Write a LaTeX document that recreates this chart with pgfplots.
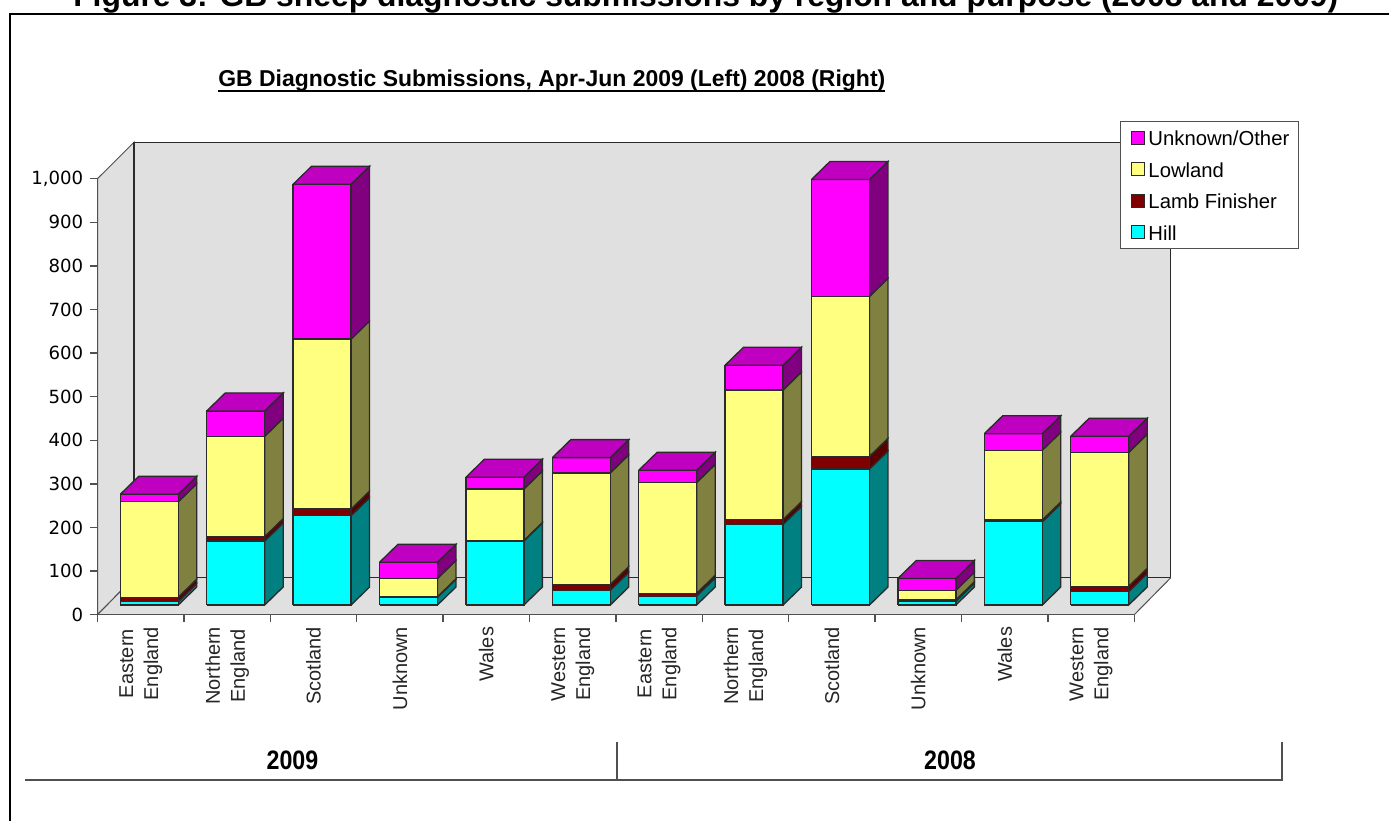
\documentclass[border=0pt]{standalone}
\usepackage{fontspec}
\setmainfont{Liberation Sans}
\newfontfamily\dejavu{DejaVu Sans}
\usepackage{pgfplots}
\pgfplotsset{compat=1.18}
\newlength{\px}\setlength{\px}{0.75pt}
\definecolor{wall}{HTML}{E0E0E0}
\definecolor{edge}{HTML}{2A2A2A}
\definecolor{axisgrey}{HTML}{505050}
\definecolor{hillF}{HTML}{00FFFF}\definecolor{hillS}{HTML}{008080}
\definecolor{lambF}{HTML}{800000}\definecolor{lambS}{HTML}{5A0000}
\definecolor{lowF}{HTML}{FFFF80}\definecolor{lowS}{HTML}{808040}
\definecolor{otherF}{HTML}{FF00FF}\definecolor{otherS}{HTML}{800080}\definecolor{otherT}{HTML}{C000C0}

% Bar geometry in axis units: one category is 86.4 px wide, one submission 0.436 px
\def\barOff{0.264}\def\barW{0.671}\def\sideX{0.214}\def\sideY{41.3}\def\barBase{22.2}

% One filled polygon through four axis points
\newcommand{\Quad}[9]{%
  \edef\tmp{\noexpand\addplot[fill=#1,draw=edge,line width=1.3\px,line join=miter,forget plot]
    coordinates {(#2,#3)(#4,#5)(#6,#7)(#8,#9)(#2,#3)};}\tmp}
% One series segment of a stacked bar: front and side faces, from lo to hi
\newcommand{\Seg}[5]{%
  \pgfmathsetmacro\xa{#1+\barOff}\pgfmathsetmacro\xb{\xa+\barW}\pgfmathsetmacro\xc{\xb+\sideX}%
  \pgfmathsetmacro\ya{#2+\barBase}\pgfmathsetmacro\yb{#3+\barBase}%
  \pgfmathsetmacro\yc{\ya+\sideY}\pgfmathsetmacro\yd{\yb+\sideY}%
  \Quad{#5}{\xb}{\ya}{\xc}{\yc}{\xc}{\yd}{\xb}{\yb}%
  \Quad{#4}{\xa}{\ya}{\xb}{\ya}{\xb}{\yb}{\xa}{\yb}}
% A whole bar: category index, then hill, lamb finisher, lowland, unknown/other
\newcommand{\StackedBar}[5]{%
  \pgfmathsetmacro\cA{#2}\pgfmathsetmacro\cB{\cA+#3}\pgfmathsetmacro\cC{\cB+#4}\pgfmathsetmacro\cD{\cC+#5}%
  \edef\sA{\cA}\edef\sB{\cB}\edef\sC{\cC}\edef\sD{\cD}%
  \Seg{#1}{0}{\sA}{hillF}{hillS}%
  \Seg{#1}{\sA}{\sB}{lambF}{lambS}%
  \Seg{#1}{\sB}{\sC}{lowF}{lowS}%
  \Seg{#1}{\sC}{\sD}{otherF}{otherS}%
  \pgfmathsetmacro\xa{#1+\barOff}\pgfmathsetmacro\xb{\xa+\barW}%
  \pgfmathsetmacro\xc{\xb+\sideX}\pgfmathsetmacro\xd{\xa+\sideX}%
  \pgfmathsetmacro\yb{\sD+\barBase}\pgfmathsetmacro\yd{\yb+\sideY}%
  \Quad{otherT}{\xa}{\yb}{\xb}{\yb}{\xc}{\yd}{\xd}{\yd}}

\begin{document}
\begin{tikzpicture}
\useasboundingbox (0,0) rectangle (1389\px,821\px);
\clip (0,0) rectangle (1389\px,821\px);
% page title, frame and chart title
\node[anchor=base west,inner sep=0pt] at (73\px,814\px)
  {\resizebox{1265\px}{!}{\bfseries\fontsize{15.6pt}{18pt}\selectfont Figure 3: GB sheep diagnostic submissions by region and purpose (2008 and 2009)}};
\draw[black,line width=2\px] (10\px,-5\px) -- (10\px,807\px) -- (1395\px,807\px);
\node[anchor=base west,inner sep=0pt] at (218\px,734\px)
  {\resizebox{667\px}{!}{\bfseries\fontsize{14.6pt}{17pt}\selectfont GB Diagnostic Submissions, Apr-Jun 2009 (Left) 2008 (Right)}};
\draw[black,line width=1.5\px] (218\px,730\px) -- (885\px,730\px);
\begin{axis}[
  at={(97.5\px,206.3\px)},anchor=origin,
  scale only axis,width=1036.8\px,height=436\px,
  xmin=0,xmax=12,ymin=0,ymax=1000,
  clip=false,axis on top,
  axis x line=bottom,axis y line=left,
  axis line style={-,draw=axisgrey,line width=1.5\px},
  tick style={draw=axisgrey,line width=1.5\px},
  major tick length=7\px,tick align=outside,
  xtick={0,...,12},x tick label as interval,
  xticklabels={{Eastern\\England},{Northern\\England},Scotland,Unknown,Wales,{Western\\England},
               {Eastern\\England},{Northern\\England},Scotland,Unknown,Wales,{Western\\England}},
  xticklabel style={rotate=90,anchor=east,align=center,inner sep=0pt,xshift=-5\px,
    font=\fontsize{15pt}{18.75pt}\selectfont,text=black!85},
  ytick={0,100,...,1000},
  yticklabel style={font=\dejavu\fontsize{13.6pt}{16pt}\selectfont,inner sep=0pt,xshift=-7\px,
    /pgf/number format/.cd,assume math mode=true,1000 sep={,}},
  legend cell align=left,
  legend image code/.code={\path (0,0);\draw[#1,line width=1\px] (4.5\px,-6.5\px) rectangle (17.5\px,6.5\px);},
  legend style={at={(rel axis cs:0.986,1.133)},anchor=north west,draw=axisgrey,line width=1.2\px,
    fill=white,inner xsep=6.5\px,inner ysep=8.5\px,
    font=\fontsize{15.2pt}{18pt}\selectfont,
    /tikz/row sep=15.5\px,
    nodes={inner xsep=3\px,inner ysep=0pt,text depth=0\px,text height=16\px}},
]
% walls and floor of the chart box
\addplot[fill=wall,draw=axisgrey,line width=1\px,forget plot] coordinates {(0,0)(0.4225,84.9)(0.4225,1083.5)(0,1000)(0,0)};
\addplot[fill=wall,draw=none,forget plot] coordinates {(0,0)(0.4225,84.9)(12.4225,84.9)(12,0)(0,0)};
\addplot[fill=wall,draw=edge,line width=1.1\px,forget plot] coordinates {(0.4225,84.9)(12.4225,84.9)(12.4225,1083.5)(0.4225,1083.5)(0.4225,84.9)};
\addplot[draw=axisgrey,line width=1\px,forget plot] coordinates {(0,0)(0.4225,84.9)};
\addplot[draw=axisgrey,line width=1\px,forget plot] coordinates {(12,0)(12.4225,84.9)};
% submissions: 2009 then 2008
\StackedBar{0}{8}{10}{219}{17}
\StackedBar{1}{147}{10}{230}{58}
\StackedBar{2}{205}{15}{390}{355}
\StackedBar{3}{18}{1}{42}{37}
\StackedBar{4}{147}{1}{118}{27}
\StackedBar{5}{34}{13}{256}{35}
\StackedBar{6}{21}{6}{254}{28}
\StackedBar{7}{185}{11}{297}{57}
\StackedBar{8}{312}{29}{367}{268}
\StackedBar{9}{9}{3}{22}{27}
\StackedBar{10}{191}{4}{160}{38}
\StackedBar{11}{31}{12}{307}{37}
% legend swatches
\addlegendimage{fill=otherF,draw=edge}\addlegendentry{Unknown/Other}
\addlegendimage{fill=lowF,draw=edge}\addlegendentry{Lowland}
\addlegendimage{fill=lambF,draw=edge}\addlegendentry{Lamb Finisher}
\addlegendimage{fill=hillF,draw=edge}\addlegendentry{Hill}
\end{axis}
% year band beneath the categories
\draw[axisgrey,line width=1.5\px] (25\px,41\px) -- (1282\px,41\px) -- (1282\px,79\px);
\draw[axisgrey,line width=1.5\px] (617\px,41\px) -- (617\px,79\px);
\node[anchor=base,inner sep=0pt] at (292.5\px,51\px) {\scalebox{0.87}[1]{\bfseries\fontsize{20pt}{24pt}\selectfont 2009}};
\node[anchor=base,inner sep=0pt] at (950\px,51\px) {\scalebox{0.87}[1]{\bfseries\fontsize{20pt}{24pt}\selectfont 2008}};
\end{tikzpicture}
\end{document}
